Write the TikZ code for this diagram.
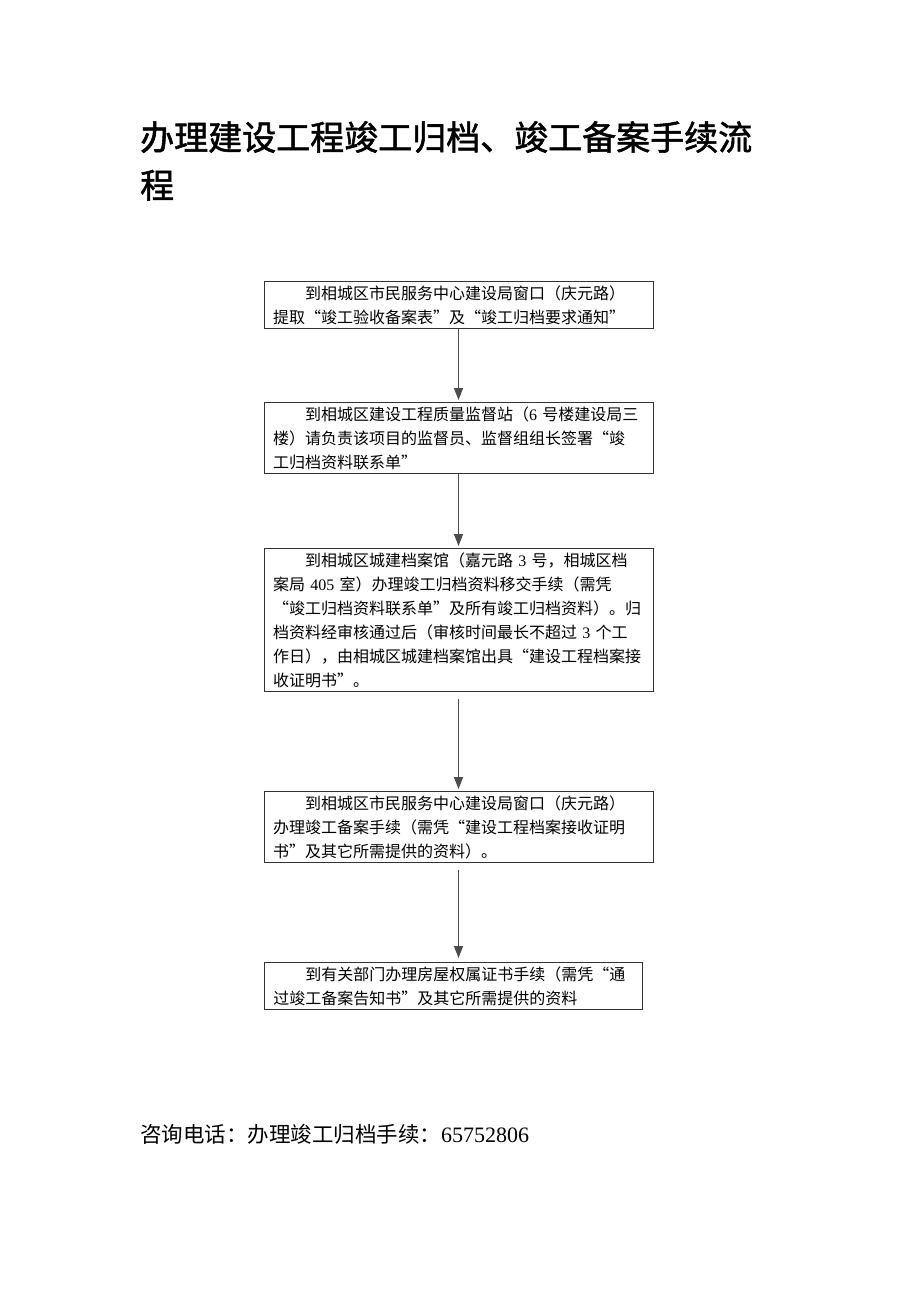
\documentclass[tikz,border=0pt]{standalone}
\usepackage{fontspec}
\setmainfont{Liberation Serif}
\newfontfamily\cjk{Noto Sans CJK SC}
\newfontfamily\cjktitle[FakeBold=1.6]{Noto Sans CJK SC}
\usetikzlibrary{arrows.meta}

\newcommand\dg[1]{{\rmfamily #1}}

\begin{document}
\begin{tikzpicture}
          [x=1pt,y=-1pt,
          stepbox/.style={shape=rectangle,draw=black!80,line width=0.9pt,anchor=north,align=left,text width=371pt,inner xsep=9pt,inner ysep=4pt,font=\cjk\fontsize{16}{24}\selectfont},
          arc/.style={-{Triangle[width=9pt,length=12pt]},draw=black!70,line width=1.6pt,shorten >=2pt}]

            \useasboundingbox (0,0) rectangle (920,1302);

            \node (title) [anchor=base west,align=left,inner sep=0pt,font=\cjktitle\fontsize{34}{48}\selectfont] at (140,198) {办理建设工程竣工归档、竣工备案手续流\\程};

            \node (1) [stepbox] at (458.5,281) {\hspace*{2em}到相城区市民服务中心建设局窗口（庆元路）\\提取“竣工验收备案表”及“竣工归档要求通知”};
            \node (2) [stepbox] at (458.5,402) {\hspace*{2em}到相城区建设工程质量监督站（\dg{6} 号楼建设局三\\楼）请负责该项目的监督员、监督组组长签署“竣\\工归档资料联系单”};
            \node (3) [stepbox] at (458.5,548) {\hspace*{2em}到相城区城建档案馆（嘉元路 \dg{3} 号，相城区档\\案局 \dg{405} 室）办理竣工归档资料移交手续（需凭\\“竣工归档资料联系单”及所有竣工归档资料）。归\\档资料经审核通过后（审核时间最长不超过 \dg{3} 个工\\作日），由相城区城建档案馆出具“建设工程档案接\\收证明书”。};
            \node (4) [stepbox] at (458.5,791) {\hspace*{2em}到相城区市民服务中心建设局窗口（庆元路）\\办理竣工备案手续（需凭“建设工程档案接收证明\\书”及其它所需提供的资料）。};
            \node (5) [stepbox,anchor=north west,text width=360pt] at (264,962) {\hspace*{2em}到有关部门办理房屋权属证书手续（需凭“通\\过竣工备案告知书”及其它所需提供的资料};

            \node (phone) [anchor=base west,inner sep=0pt,font=\cjk\fontsize{21.5}{26}\selectfont] at (140,1142) {咨询电话：办理竣工归档手续：\dg{\fontsize{22}{26}\selectfont 65752806}};

            \draw [arc] (1) to (2);
            \draw [arc] (2) to (3);
            \draw [arc] ([yshift=-7pt]3.south) to (4);
            \draw [arc,shorten >=4pt] ([yshift=-7pt]4.south) to (4.south |- 5.north);

\end{tikzpicture}
\end{document}
